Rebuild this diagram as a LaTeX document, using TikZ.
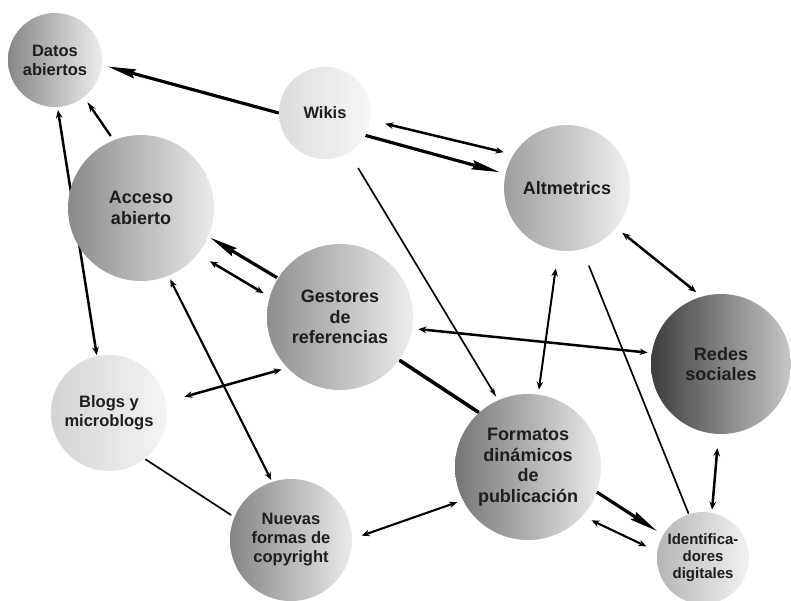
\documentclass[tikz,border=0pt]{standalone}
\usepackage{fontspec}
\setmainfont{Liberation Sans}
\usetikzlibrary{arrows.meta}
\pgfdeclarelayer{bg}
\pgfsetlayers{bg,main}
\definecolor{txt}{HTML}{1E1E1E}
\begin{document}
\begin{tikzpicture}[x=1pt,y=-1pt,
  bub/.style={circle, inner sep=0pt, draw=none, text=txt, align=center},
  big/.style={font=\fontsize{18}{20.5}\selectfont\bfseries},
  mid/.style={font=\fontsize{16.5}{19}\selectfont\bfseries},
  sml/.style={font=\fontsize{15}{17}\selectfont\bfseries},
  dbl/.style={line width=2.5pt, >={Stealth[length=8pt,width=6.5pt]}, <->},
  one/.style={line width=3.2pt, >={Stealth[length=28pt,width=9pt,inset=3pt]}, ->},
  med/.style={line width=2.4pt, >={Stealth[length=10pt,width=6pt]}, ->},
  thinarr/.style={line width=1.7pt, >={Stealth[length=9pt,width=5pt]}, ->},
  plain/.style={line width=1.7pt, line cap=round},
  heavy/.style={line width=3.6pt, line cap=round}
]
\useasboundingbox (0,0) rectangle (791,600);

\node[bub, mid, minimum size=94pt, left color=black!47, right color=black!7] (D) at (55,60) {Datos\\abiertos};
\node[bub, mid, minimum size=92pt, left color=black!14, right color=black!3] (W) at (325,113) {Wikis};
\node[bub, big, minimum size=146pt, left color=black!46, right color=black!8] (A) at (141,208) {Acceso\\abierto};
\node[bub, big, minimum size=126pt, left color=black!38, right color=black!6] (Al) at (567,188) {Altmetrics};
\node[bub, big, minimum size=146pt, left color=black!44, right color=black!7] (G) at (340,317) {Gestores\\de\\referencias};
\node[bub, mid, minimum size=116pt, left color=black!17, right color=black!4] (B) at (109,413) {Blogs y\\microblogs};
\node[bub, mid, minimum size=122pt, left color=black!48, right color=black!8] (N) at (291,540) {Nuevas\\formas de\\copyright};
\node[bub, big, minimum size=140pt, left color=black!76, right color=black!22] (R) at (721,364) {Redes\\sociales};
\node[bub, big, minimum size=146pt, left color=black!54, right color=black!8] (F) at (528,467) {Formatos\\dinámicos\\de\\publicación};
\node[bub, sml, minimum size=92pt, left color=black!29, right color=black!5] (I) at (703,558) {Identifica-\\dores\\digitales};

\begin{pgfonlayer}{bg}
\fill[white] (0,0) rectangle (791,600);
\draw[one, shorten >=6pt] (W.180) -- (D.-6.5);
\draw[med, shorten <=5pt, shorten >=6pt] (A.112) -- (D.-52);
\draw[dbl, shorten <=3pt, shorten >=1pt] (D.-87) -- (B.102);
\draw[dbl, line width=2.1pt, shorten <=4pt, shorten >=2pt] (A.-68) -- (N.108);
\draw[one, shorten <=1pt, shorten >=2pt] (G.148) -- (A.-23);
\draw[dbl, shorten <=14pt, shorten >=7pt] (A.-39) -- (G.164);
\draw[dbl, shorten <=15pt, shorten >=10pt] (W.-9.5) -- (Al.148);
\draw[one, shorten >=6pt] (W.-29) -- (Al.167);
\draw[thinarr, shorten <=18pt, shorten >=4pt] (W.-59) -- (F.114);
\draw[dbl, line width=2pt, shorten <=18pt, shorten >=5pt] (Al.-98.5) -- (F.82.6);
\draw[plain, shorten <=18pt, shorten >=1pt] (Al.-76.5) -- (I.108);
\draw[dbl, shorten <=8pt, shorten >=7pt] (Al.-39) -- (R.106);
\draw[dbl, shorten <=6pt, shorten >=4pt] (G.-9.5) -- (R.171);
\draw[dbl, shorten <=6pt, shorten >=19pt] (G.-136) -- (B.11);
\draw[heavy, shorten <=1pt, shorten >=1pt] (G.-36) -- (F.132);
\draw[plain, shorten <=1pt, shorten >=4pt] (B.-52.5) -- (N.158.5);
\draw[dbl, line width=2.1pt, shorten <=10pt, shorten >=6pt] (N.1.6) -- (F.-153);
\draw[one, shorten >=7pt] (F.-20) -- (I.150);
\draw[dbl, line width=2.1pt, shorten <=10pt, shorten >=12pt] (F.-42.5) -- (I.172);
\draw[dbl, shorten <=14pt, shorten >=3pt] (R.-92) -- (I.79);
\end{pgfonlayer}
\end{tikzpicture}
\end{document}
